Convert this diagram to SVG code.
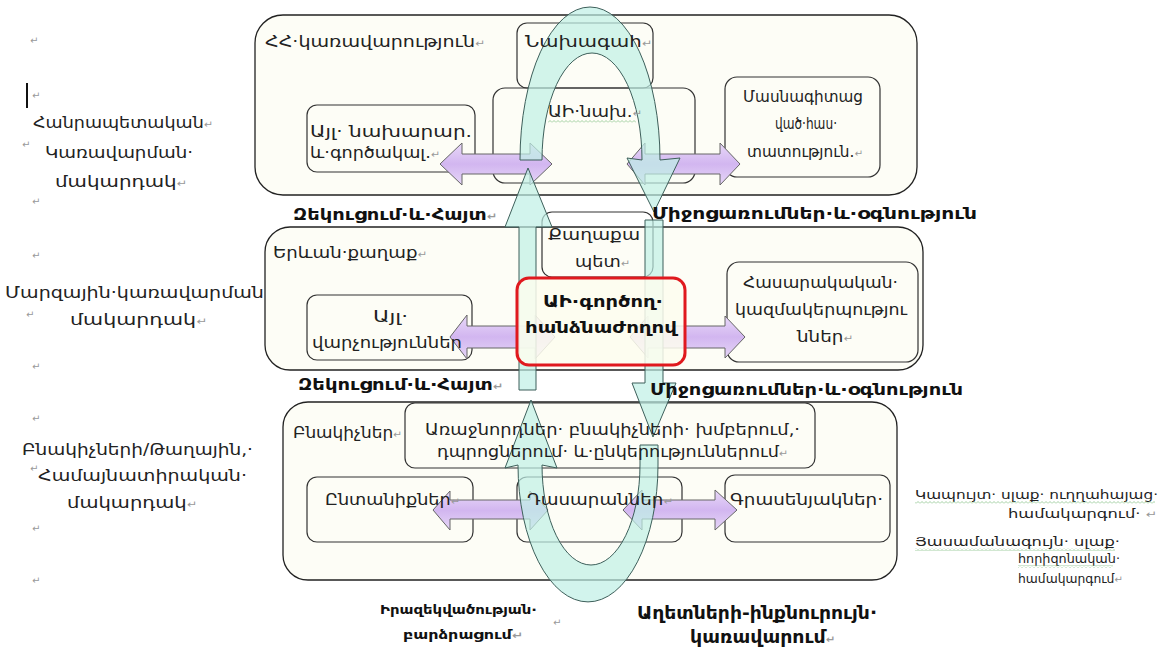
<svg xmlns="http://www.w3.org/2000/svg" width="1171" height="657" viewBox="0 0 1171 657">
<style>
text{font-family:"DejaVu Sans","Noto Sans",sans-serif;fill:#222;font-size:16px}
.b{font-weight:bold;fill:#111}
.pm{fill:#999;font-size:10px}
.s{font-size:12px}
.m{font-size:15px}
.big{fill:#fdfdf6;stroke:#222;stroke-width:1.3}
.box{fill:none;stroke:#333;stroke-width:1.2}
.pu{fill:url(#pg);stroke:#666;stroke-width:1}
.cy{fill:#bff0e6;fill-opacity:0.7;stroke:#3d5f5a;stroke-width:1}
</style>
<defs>
<linearGradient id="pg" x1="0" y1="0" x2="0" y2="1">
<stop offset="0" stop-color="#e8d8f8"/>
<stop offset="0.5" stop-color="#d2b6f0"/>
<stop offset="1" stop-color="#e6d6f7"/>
</linearGradient>
<pattern id="wave" width="4" height="3" patternUnits="userSpaceOnUse">
<path d="M0 2.5 L2 0.5 L4 2.5" fill="none" stroke="#8cc48c" stroke-width="0.8"/>
</pattern>
</defs>
<rect width="1171" height="657" fill="#ffffff"/>

<g id="level-labels">
<text class="pm" x="30" y="44">↵</text>
<line x1="27" y1="83" x2="27" y2="108" stroke="#111" stroke-width="2"/>
<text class="pm" x="32" y="99">↵</text>
<text x="33" y="128" textLength="180" lengthAdjust="spacingAndGlyphs">Հանրապետական<tspan class="pm">↵</tspan></text>
<text class="pm" x="22" y="148">↵</text>
<text x="45" y="158" textLength="148" lengthAdjust="spacingAndGlyphs">Կառավարման·</text>
<text x="55" y="187" textLength="132" lengthAdjust="spacingAndGlyphs">մակարդակ<tspan class="pm">↵</tspan></text>
<text class="pm" x="32" y="205">↵</text>
<text class="pm" x="32" y="259">↵</text>
<text x="5" y="298" textLength="265" lengthAdjust="spacingAndGlyphs">Մարզային·կառավարման·</text>
<text class="pm" x="26" y="318">↵</text>
<text x="70" y="325" textLength="137" lengthAdjust="spacingAndGlyphs">մակարդակ<tspan class="pm">↵</tspan></text>
<text class="pm" x="32" y="370">↵</text>
<text class="pm" x="32" y="422">↵</text>
<text x="22" y="455" textLength="231" lengthAdjust="spacingAndGlyphs">Բնակիչների/Թաղային,·</text>
<text class="pm" x="30" y="472">↵</text>
<text x="38" y="481" textLength="209" lengthAdjust="spacingAndGlyphs">Համայնատիրական·</text>
<text x="67" y="508" textLength="130" lengthAdjust="spacingAndGlyphs">մակարդակ<tspan class="pm">↵</tspan></text>
<text class="pm" x="32" y="532">↵</text>
<text class="pm" x="32" y="584">↵</text>
</g>

<g id="outer-boxes">
<rect id="box-gov" class="big" x="255" y="15" width="662" height="180" rx="28"/>
<rect id="box-city" class="big" x="265" y="227" width="658" height="143" rx="25"/>
<rect id="box-res" class="big" x="283" y="402" width="614" height="178" rx="25"/>
</g>

<g id="inner-boxes">
<rect class="box" x="517" y="23" width="136" height="65" rx="10"/>
<rect class="box" x="493" y="88" width="202" height="95" rx="12"/>
<rect class="box" x="307" y="105" width="168" height="67" rx="10"/>
<rect class="box" x="725" y="77" width="155" height="100" rx="12"/>
<rect class="box" x="542" y="212" width="111" height="65" rx="10"/>
<rect class="box" x="307" y="295" width="165" height="65" rx="10"/>
<rect class="box" x="727" y="262" width="191" height="100" rx="12"/>
<rect class="box" x="405" y="403" width="410" height="65" rx="10"/>
<rect class="box" x="307" y="477" width="166" height="65" rx="10"/>
<rect class="box" x="517" y="477" width="165" height="65" rx="10"/>
<rect class="box" x="725" y="475" width="165" height="67" rx="10"/>
</g>

<g id="connectors">
<polygon class="pu" points="440,164 462,143 462,154 530,154 530,143 552,164 530,185 530,174 462,174 462,185"/>
<polygon class="pu" points="627,164 645,143 645,154 720,154 720,143 740,164 720,185 720,174 645,174 645,185"/>
<polygon class="pu" points="450,337 467,315 467,326 535,326 535,315 555,337 535,359 535,348 467,348 467,359"/>
<polygon class="pu" points="630,337 648,316 648,326 725,326 725,316 745,337 725,358 725,348 648,348 648,358"/>
<polygon class="pu" points="433,510 450,491 450,500 530,500 530,491 548,510 530,530 530,519 450,519 450,530"/>
<polygon class="pu" points="623,510 642,490 642,500 715,500 715,490 737,510 715,530 715,519 642,519 642,530"/>
<path class="cy" d="M520 160 A70 153 0 0 1 660 160 L680 158 L654 212 L627 158 L642 160 A50 107 0 0 0 542 160 Z"/>
<polygon class="cy" points="528,168 552,227 536,227 536,390 519,390 519,227 505,227"/>
<polygon class="cy" points="645,220 663,220 663,383 676,383 653,437 632,383 645,383"/>
<path class="cy" d="M640 445 L658 445 L658 465 A70 137 0 0 1 518 465 L505 468 L531 400 L557 468 L542 465 A49 100 0 0 0 640 465 Z"/>
</g>

<g id="node-ai-committee">
<rect x="517" y="278" width="168" height="87" rx="12" fill="#fdfdef" fill-opacity="0.85" stroke="#e0191e" stroke-width="3"/>
<text class="b" x="543" y="307" textLength="120" lengthAdjust="spacingAndGlyphs">ԱԻ·գործող·</text>
<text class="b" x="525" y="333" textLength="152" lengthAdjust="spacingAndGlyphs">հանձնաժողով</text>
</g>

<g id="node-gov"><text x="265" y="47" textLength="220" lengthAdjust="spacingAndGlyphs">ՀՀ·կառավարություն<tspan class="pm">↵</tspan></text></g>
<g id="node-president"><text x="525" y="47" textLength="127" lengthAdjust="spacingAndGlyphs">Նախագահ<tspan class="pm">↵</tspan></text></g>
<g id="node-ai-min">
<text x="548" y="117" textLength="94" lengthAdjust="spacingAndGlyphs">ԱԻ·նախ.<tspan class="pm">↵</tspan></text>
<rect x="548" y="120" width="88" height="3" fill="url(#wave)"/>
</g>
<g id="node-other-min">
<text x="310" y="137" textLength="162" lengthAdjust="spacingAndGlyphs">Այլ· նախարար.</text>
<text x="310" y="158" textLength="130" lengthAdjust="spacingAndGlyphs">և·գործակալ.<tspan class="pm">↵</tspan></text>
</g>
<g id="node-special">
<text class="m" x="743" y="102" textLength="120" lengthAdjust="spacingAndGlyphs">Մասնագիտաց</text>
<text class="m" x="775" y="129" textLength="62" lengthAdjust="spacingAndGlyphs">ված·հաս·</text>
<text class="m" x="747" y="157" textLength="116" lengthAdjust="spacingAndGlyphs">տատություն.<tspan class="pm">↵</tspan></text>
</g>
<g id="labels-flow">
<text class="b" x="293" y="220" textLength="204" lengthAdjust="spacingAndGlyphs">Զեկուցում·և·Հայտ<tspan class="pm">↵</tspan></text>
<text class="b" x="652" y="219" textLength="325" lengthAdjust="spacingAndGlyphs">Միջոցառումներ·և·օգնություն</text>
<text class="b" x="298" y="390" textLength="205" lengthAdjust="spacingAndGlyphs">Զեկուցում·և·Հայտ<tspan class="pm">↵</tspan></text>
<text class="b" x="650" y="395" textLength="313" lengthAdjust="spacingAndGlyphs">Միջոցառումներ·և·օգնություն</text>
</g>
<g id="node-city"><text x="273" y="258" textLength="154" lengthAdjust="spacingAndGlyphs">Երևան·քաղաք<tspan class="pm">↵</tspan></text></g>
<g id="node-mayor">
<text x="548" y="240" textLength="92" lengthAdjust="spacingAndGlyphs">Քաղաքա</text>
<text x="575" y="267" textLength="55" lengthAdjust="spacingAndGlyphs">պետ<tspan class="pm">↵</tspan></text>
</g>
<g id="node-other-dep">
<text x="373" y="322" textLength="35" lengthAdjust="spacingAndGlyphs">Այլ·</text>
<text x="312" y="348" textLength="150" lengthAdjust="spacingAndGlyphs">վարչություններ</text>
</g>
<g id="node-ngo">
<text x="743" y="288" textLength="155" lengthAdjust="spacingAndGlyphs">Հասարակական·</text>
<text x="735" y="315" textLength="172" lengthAdjust="spacingAndGlyphs">կազմակերպությու</text>
<text x="797" y="342" textLength="56" lengthAdjust="spacingAndGlyphs">ններ<tspan class="pm">↵</tspan></text>
</g>
<g id="node-residents"><text x="293" y="438" textLength="109" lengthAdjust="spacingAndGlyphs">Բնակիչներ<tspan class="pm">↵</tspan></text></g>
<g id="node-leaders">
<text x="425" y="435" textLength="375" lengthAdjust="spacingAndGlyphs">Առաջնորդներ· բնակիչների· խմբերում,·</text>
<text x="437" y="457" textLength="351" lengthAdjust="spacingAndGlyphs">դպրոցներում· և·ընկերություններում<tspan class="pm">↵</tspan></text>
</g>
<g id="node-families"><text x="325" y="505" textLength="135" lengthAdjust="spacingAndGlyphs">Ընտանիքներ<tspan class="pm">↵</tspan></text></g>
<g id="node-classes"><text x="527" y="505" textLength="146" lengthAdjust="spacingAndGlyphs">Դասարաններ<tspan class="pm">↵</tspan></text></g>
<g id="node-offices"><text x="730" y="505" textLength="153" lengthAdjust="spacingAndGlyphs">Գրասենյակներ·</text></g>

<g id="bottom-labels">
<text class="b" style="font-size:12px" x="380" y="614" textLength="157" lengthAdjust="spacingAndGlyphs">Իրազեկվածության·</text>
<text class="b" style="font-size:12px" x="403" y="639" textLength="120" lengthAdjust="spacingAndGlyphs">բարձրացում<tspan class="pm">↵</tspan></text>
<text class="pm" x="553" y="626">↵</text>
<text class="b" style="font-size:17px" x="637" y="619" textLength="240" lengthAdjust="spacingAndGlyphs">Աղետների-ինքնուրույն·</text>
<text class="b" style="font-size:17px" x="690" y="643" textLength="145" lengthAdjust="spacingAndGlyphs">կառավարում<tspan class="pm">↵</tspan></text>
</g>

<g id="legend">
<text class="s" x="915" y="499" textLength="243" lengthAdjust="spacingAndGlyphs">Կապույտ· սլաք· ուղղահայաց·</text>
<rect x="915" y="501" width="240" height="3" fill="url(#wave)"/>
<text class="s" x="1008" y="518" textLength="149" lengthAdjust="spacingAndGlyphs">համակարգում· <tspan class="pm">↵</tspan></text>
<text class="s" x="915" y="546" textLength="205" lengthAdjust="spacingAndGlyphs">Յասամանագույն· սլաք·</text>
<rect x="915" y="548" width="200" height="3" fill="url(#wave)"/>
<text class="s" x="1018" y="563" textLength="102" lengthAdjust="spacingAndGlyphs">հորիզոնական·</text>
<rect x="1018" y="565" width="95" height="3" fill="url(#wave)"/>
<text class="s" x="1018" y="583" textLength="105" lengthAdjust="spacingAndGlyphs">համակարգում<tspan class="pm">↵</tspan></text>
</g>
</svg>
